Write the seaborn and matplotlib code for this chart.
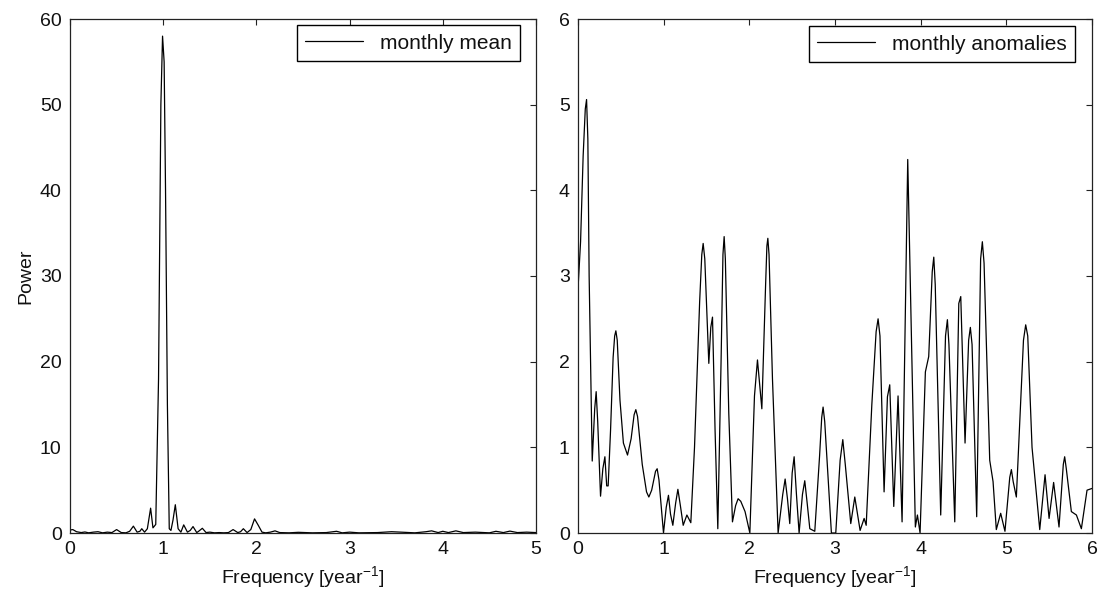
import numpy as np
import pandas as pd
import matplotlib
matplotlib.use("Agg")
import matplotlib.pyplot as plt
import seaborn as sns

# left panel: spectrum of the monthly means
freq_mean = [0.00, 0.03, 0.07, 0.12, 0.16, 0.20, 0.25, 0.30, 0.35, 0.40,
             0.45, 0.50, 0.55, 0.60, 0.64, 0.68, 0.72, 0.75, 0.77, 0.80,
             0.83, 0.865, 0.89, 0.92, 0.95, 0.975, 0.993, 1.01, 1.025, 1.045,
             1.065, 1.083, 1.105, 1.13, 1.16, 1.19, 1.22, 1.26, 1.29, 1.32,
             1.36, 1.38, 1.42, 1.46, 1.50, 1.55, 1.60, 1.65, 1.70, 1.75,
             1.80, 1.83, 1.86, 1.90, 1.94, 1.98, 2.02, 2.06, 2.10, 2.15,
             2.20, 2.25, 2.35, 2.45, 2.60, 2.75, 2.86, 2.92, 3.00, 3.10,
             3.30, 3.45, 3.55, 3.70, 3.82, 3.88, 3.95, 4.00, 4.06, 4.14,
             4.22, 4.35, 4.50, 4.57, 4.65, 4.72, 4.80, 4.90, 5.00]
power_mean = [0.35, 0.40, 0.15, 0.05, 0.12, 0.02, 0.10, 0.15, 0.02, 0.10,
              0.05, 0.40, 0.05, 0.02, 0.20, 0.80, 0.10, 0.20, 0.50, 0.10,
              0.50, 2.90, 0.60, 1.00, 18.0, 50.0, 58.0, 55.0, 40.0, 15.0,
              0.50, 0.30, 1.50, 3.30, 0.50, 0.10, 0.95, 0.10, 0.30, 0.75,
              0.05, 0.20, 0.55, 0.05, 0.10, 0.02, 0.05, 0.02, 0.05, 0.40,
              0.05, 0.15, 0.50, 0.05, 0.40, 1.65, 0.90, 0.10, 0.02, 0.10,
              0.25, 0.05, 0.02, 0.08, 0.02, 0.05, 0.20, 0.02, 0.10, 0.02,
              0.05, 0.15, 0.10, 0.02, 0.15, 0.25, 0.05, 0.20, 0.05, 0.25,
              0.05, 0.10, 0.02, 0.20, 0.05, 0.22, 0.05, 0.10, 0.05]

# right panel: spectrum of the monthly anomalies
freq_anom = [0.00, 0.03, 0.06, 0.085, 0.10, 0.115, 0.13, 0.166, 0.195, 0.212,
             0.23, 0.263, 0.29, 0.314, 0.335, 0.352, 0.38, 0.41, 0.428, 0.442,
             0.458, 0.49, 0.53, 0.578, 0.62, 0.655, 0.675, 0.695, 0.75, 0.80,
             0.827, 0.86, 0.905, 0.924, 0.945, 0.998, 1.03, 1.056, 1.08, 1.107,
             1.14, 1.166, 1.195, 1.228, 1.271, 1.317, 1.36, 1.42, 1.445, 1.461,
             1.48, 1.527, 1.55, 1.570, 1.60, 1.632, 1.67, 1.692, 1.706, 1.72,
             1.76, 1.803, 1.84, 1.869, 1.90, 1.95, 2.006, 2.06, 2.095, 2.146,
             2.19, 2.205, 2.216, 2.23, 2.27, 2.336, 2.39, 2.418, 2.445, 2.472,
             2.50, 2.523, 2.55, 2.581, 2.62, 2.647, 2.675, 2.706, 2.764, 2.82,
             2.845, 2.861, 2.88, 2.958, 3.009, 3.06, 3.091, 3.12, 3.184, 3.231,
             3.293, 3.340, 3.364, 3.43, 3.48, 3.503, 3.525, 3.573, 3.612, 3.639,
             3.686, 3.736, 3.783, 3.83, 3.849, 3.865, 3.938, 3.962, 3.993, 4.055,
             4.094, 4.135, 4.153, 4.17, 4.234, 4.29, 4.312, 4.33, 4.398, 4.445,
             4.468, 4.518, 4.56, 4.580, 4.60, 4.654, 4.70, 4.720, 4.74, 4.806,
             4.845, 4.883, 4.934, 4.984, 5.04, 5.059, 5.08, 5.117, 5.20, 5.226,
             5.25, 5.30, 5.390, 5.452, 5.499, 5.552, 5.615, 5.665, 5.681, 5.70,
             5.759, 5.818, 5.876, 5.942, 6.00]
power_anom = [2.85, 3.40, 4.40, 4.95, 5.06, 4.60, 3.00, 0.84, 1.45, 1.65,
              1.30, 0.43, 0.75, 0.89, 0.55, 0.55, 1.20, 2.05, 2.30, 2.36,
              2.25, 1.55, 1.05, 0.91, 1.10, 1.38, 1.44, 1.36, 0.80, 0.48,
              0.42, 0.50, 0.72, 0.75, 0.62, 0.00, 0.30, 0.44, 0.22, 0.09,
              0.35, 0.51, 0.32, 0.09, 0.21, 0.12, 1.00, 2.70, 3.25, 3.38,
              3.20, 1.98, 2.40, 2.52, 1.20, 0.05, 2.00, 3.25, 3.46, 3.20,
              1.40, 0.13, 0.32, 0.40, 0.37, 0.25, 0.00, 1.60, 2.02, 1.45,
              2.90, 3.35, 3.44, 3.25, 1.80, 0.00, 0.45, 0.63, 0.40, 0.11,
              0.70, 0.89, 0.45, 0.00, 0.45, 0.61, 0.35, 0.05, 0.02, 0.90,
              1.35, 1.47, 1.30, 0.00, 0.00, 0.85, 1.09, 0.80, 0.11, 0.42,
              0.03, 0.17, 0.09, 1.50, 2.35, 2.50, 2.30, 0.48, 1.59, 1.73,
              0.31, 1.60, 0.13, 3.20, 4.36, 3.60, 0.07, 0.21, 0.00, 1.88,
              2.06, 3.05, 3.22, 2.90, 0.21, 2.30, 2.49, 2.20, 0.13, 2.68,
              2.76, 1.05, 2.25, 2.40, 2.20, 0.19, 3.20, 3.40, 3.15, 0.85,
              0.60, 0.04, 0.23, 0.02, 0.65, 0.74, 0.60, 0.42, 2.25, 2.43,
              2.30, 1.00, 0.04, 0.68, 0.17, 0.59, 0.07, 0.80, 0.89, 0.75,
              0.25, 0.21, 0.05, 0.50, 0.52]

df_mean = pd.DataFrame({"freq": freq_mean, "power": power_mean})
df_anom = pd.DataFrame({"freq": freq_anom, "power": power_anom})

sns.set_style("white")
plt.rcParams["font.family"] = ["Liberation Sans", "DejaVu Sans"]
plt.rcParams["mathtext.default"] = "regular"
plt.rcParams["axes.edgecolor"] = "#222222"
plt.rcParams["axes.linewidth"] = 0.9
plt.rcParams["text.color"] = "#111111"
plt.rcParams["axes.labelcolor"] = "#111111"
plt.rcParams["xtick.color"] = "#111111"
plt.rcParams["ytick.color"] = "#111111"

fig = plt.figure(figsize=(11.01, 5.98), dpi=100)
ax1 = fig.add_axes([70 / 1101, 65 / 598, 466 / 1101, 514 / 598])
ax2 = fig.add_axes([578 / 1101, 65 / 598, 514 / 1101, 514 / 598])

sns.lineplot(data=df_mean, x="freq", y="power", ax=ax1, color="black",
             linewidth=0.9, label="monthly mean")
sns.lineplot(data=df_anom, x="freq", y="power", ax=ax2, color="black",
             linewidth=0.9, label="monthly anomalies")

ax1.set_xlim(0, 5)
ax1.set_ylim(0, 60)
ax1.set_xticks(range(0, 6))
ax1.set_yticks(range(0, 61, 10))
ax1.set_ylabel("Power", fontsize=14)

ax2.set_xlim(0, 6)
ax2.set_ylim(0, 6)
ax2.set_xticks(range(0, 7))
ax2.set_yticks(range(0, 7))
ax2.set_ylabel("")

for ax in (ax1, ax2):
    ax.set_xlabel("Frequency [year$^{-1}$]", fontsize=14)
    ax.tick_params(direction="in", top=True, right=True, length=4.5,
                   width=0.8, labelsize=14, pad=6, color="#222222")
    for s in ax.spines.values():
        s.set_visible(True)

ax1.legend(loc="upper right", bbox_to_anchor=(0.966, 0.988), borderaxespad=0,
           fancybox=False, edgecolor="black", framealpha=1, fontsize=15,
           handlelength=2.8, borderpad=0.4)
ax2.legend(loc="upper right", bbox_to_anchor=(0.967, 0.986), borderaxespad=0,
           fancybox=False, edgecolor="black", framealpha=1, fontsize=15,
           handlelength=2.8, borderpad=0.4)

fig.savefig("out.png", dpi=100)
